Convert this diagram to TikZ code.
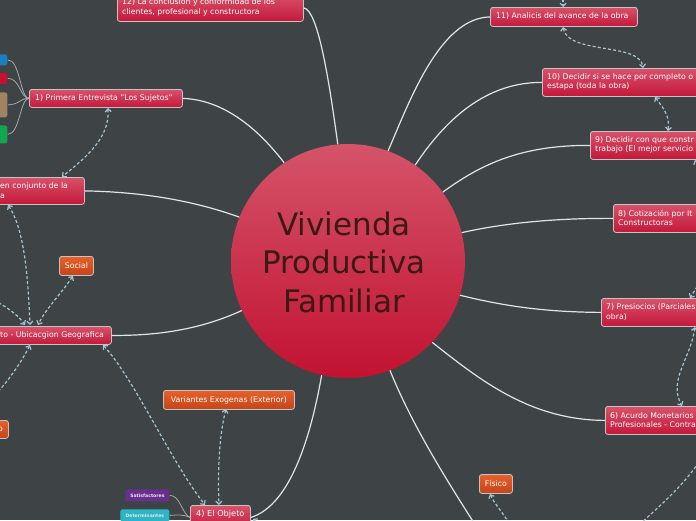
\documentclass[tikz,border=0pt]{standalone}
\usepackage{fontspec}
\setmainfont{DejaVu Sans}
\usetikzlibrary{arrows.meta}
\definecolor{bg}{HTML}{3E4345}
\definecolor{boxline}{HTML}{C4C4C4}
\definecolor{redtop}{HTML}{D8526A}
\definecolor{redbot}{HTML}{C4173A}
\definecolor{ortop}{HTML}{E8602A}
\definecolor{orbot}{HTML}{C4441A}
\definecolor{circtop}{HTML}{D45469}
\definecolor{circbot}{HTML}{C21232}
\definecolor{ctext}{HTML}{3A1A12}
\definecolor{mainline}{HTML}{E4E4E4}
\definecolor{dashline}{HTML}{A6C6D4}
\definecolor{subline}{HTML}{A8A8A8}
\definecolor{cblue}{HTML}{1A7EC2}
\definecolor{cred}{HTML}{C8102E}
\definecolor{ctan}{HTML}{9E8560}
\definecolor{cgreen}{HTML}{12A650}
\definecolor{cpurple}{HTML}{6A2E8E}
\definecolor{cteal}{HTML}{2BB5C5}
\tikzset{
  boxbase/.style={rectangle, rounded corners=2.5pt, draw=boxline, line width=0.8pt, inner sep=0pt, anchor=north west},
  redbox/.style={boxbase, top color=redtop, bottom color=redbot},
  orbox/.style={boxbase, top color=ortop, bottom color=orbot},
  flatbox/.style={boxbase, draw=none, fill=#1},
  btxt/.style={text=white, font=\fontsize{7.8}{9.4}\selectfont, align=left, inner sep=0pt, anchor=west},
  tinytxt/.style={text=white!90!black, font=\fontsize{4.6}{5}\selectfont\bfseries, inner sep=0pt},
  mainconn/.style={draw=mainline, line width=1.2pt},
  subconn/.style={draw=subline, line width=0.8pt},
  dconn/.style={draw=dashline, line width=1.2pt, dash pattern=on 3pt off 2.2pt,
     {Straight Barb[length=3pt,width=6pt]}-{Straight Barb[length=3pt,width=6pt]}},
  dconnend/.style={draw=dashline, line width=1.2pt, dash pattern=on 3pt off 2.2pt,
     -{Straight Barb[length=3pt,width=6pt]}},
  dconnplain/.style={draw=dashline, line width=1.2pt, dash pattern=on 3pt off 2.2pt}
}
\begin{document}
\begin{tikzpicture}[x=1pt,y=-1pt]
\useasboundingbox (0,0) rectangle (696,520);
\fill[bg] (0,0) rectangle (696,520);
\begin{scope}
\clip (0,0) rectangle (696,520);

% central circle
\node[circle, minimum size=234pt, inner sep=0pt, top color=circtop, bottom color=circbot] (c) at (348,261) {};
\node[text=ctext, font=\fontsize{31}{38.5}\selectfont, align=center, inner sep=0pt] (ct) at (344,262) {Vivienda\\Productiva\\ Familiar};

% boxes (left)
\node[redbox, minimum width=186pt, minimum height=27pt] (n12) at (117,-6) {};
\node[btxt] (t12) at (122,7.5) {12) La conclusion y conformidad de los\\clientes, profesional y constructora};

\node[redbox, minimum width=153pt, minimum height=18pt] (n1) at (29,89) {};
\node[btxt] (t1) at (35,98) {1) Primera Entrevista "Los Sujetos"};

\node[flatbox=cblue, minimum width=30pt, minimum height=11pt] (s1) at (-23,54) {};
\node[flatbox=cred, minimum width=30pt, minimum height=11pt] (s2) at (-23,72.5) {};
\node[flatbox=ctan, minimum width=30pt, minimum height=25pt] (s3) at (-23,92) {};
\node[flatbox=cgreen, minimum width=30pt, minimum height=18pt] (s4) at (-23,125) {};

\node[redbox, minimum width=144pt, minimum height=27pt] (n2) at (-60,177) {};
\node[btxt] (t2) at (0,190.5) {en conjunto de la\\a};

\node[redbox, minimum width=171pt, minimum height=18pt] (n3) at (-60,326) {};
\node[btxt] (t3) at (0,335) {to - Ubicacgion Geografica};

\node[orbox, minimum width=34pt, minimum height=19pt] (soc) at (59,256) {};
\node[btxt, anchor=center] (tsoc) at (soc.center) {Social};

\node[orbox, minimum width=38pt, minimum height=18pt] (ol) at (-30,420) {};
\node[btxt, anchor=east] (tol) at (3,429) {o};

\node[orbox, minimum width=131pt, minimum height=19pt] (var) at (163,390) {};
\node[btxt, anchor=center] (tvar) at (var.center) {Variantes Exogenas (Exterior)};

\node[redbox, minimum width=60pt, minimum height=24pt] (n4) at (190,505) {};
\node[btxt, font=\fontsize{8.2}{9.5}\selectfont] (t4) at (196,514.5) {4) El Objeto};

\node[flatbox=cpurple, minimum width=44pt, minimum height=12pt, rounded corners=1.5pt] (sat) at (125,489) {};
\node[tinytxt] (tsat) at (sat.center) {Satisfactores};
\node[flatbox=cteal, minimum width=49pt, minimum height=12pt, rounded corners=1.5pt] (det) at (120,509) {};
\node[tinytxt] (tdet) at (det.center) {Determinantes};

\node[orbox, minimum width=33pt, minimum height=19pt] (fis) at (479,474) {};
\node[btxt, anchor=center] (tfis) at (fis.center) {Físico};

% boxes (right)
\node[redbox, minimum width=147pt, minimum height=19pt] (n11) at (490,7) {};
\node[btxt] (t11) at (496,16.5) {11) Analicis del avance de la obra};

\node[redbox, minimum width=200pt, minimum height=28pt] (n10) at (542,68) {};
\node[btxt] (t10) at (547,82) {10) Decidir si se hace por completo o\\estapa (toda la obra)};

\node[redbox, minimum width=150pt, minimum height=28pt] (n9) at (590,131) {};
\node[btxt] (t9) at (595,145) {9) Decidir con que constr\\trabajo (El mejor servicio};

\node[redbox, minimum width=120pt, minimum height=28pt] (n8) at (613,204) {};
\node[btxt] (t8) at (618,218) {8) Cotización por It\\Constructoras};

\node[redbox, minimum width=120pt, minimum height=28pt] (n7) at (601,298) {};
\node[btxt] (t7) at (606,312) {7) Presiocios (Parciales\\obra)};

\node[redbox, minimum width=120pt, minimum height=28pt] (n6) at (605,406) {};
\node[btxt] (t6) at (610,420) {6) Acurdo Monetarios\\Profesionales - Contra};

% free ends
\coordinate (e5) at (476,526);
\coordinate (eL1) at (-6,300);
\coordinate (eL2) at (-8,398);
\coordinate (e4r) at (268,530);
\coordinate (efis) at (512,528);
\coordinate (eR1) at (702,458);
\coordinate (eR2) at (636,528);
\coordinate (e7t) at (700,282);
\coordinate (e9b) at (702,176);
\coordinate (e11t) at (563,-6);

% main connectors
\draw[mainconn] (n12.east) .. controls (318,10) and (329,80) .. (c.95);
\draw[mainconn] (n1.east) .. controls (230,100) and (265,138) .. (c.123);
\draw[mainconn] (n2.east) .. controls (150,192) and (200,203) .. (c.158);
\draw[mainconn] (n3.east) .. controls (170,336) and (210,325) .. (c.205);
\draw[mainconn] (n4.east) .. controls (292,505) and (312,430) .. (c.257);
\draw[mainconn] (c.291) .. controls (410,420) and (440,470) .. (e5);
\draw[mainconn] (n6.west) .. controls (530,420) and (480,380) .. (c.316);
\draw[mainconn] (n7.west) .. controls (540,312) and (500,305) .. (c.343);
\draw[mainconn] (n8.west) .. controls (550,218) and (500,224) .. (c.14);
\draw[mainconn] (n9.west) .. controls (520,145) and (480,165) .. (c.36);
\draw[mainconn] (n10.west) .. controls (480,82) and (440,128) .. (c.55);
\draw[mainconn] (n11.west) .. controls (440,18) and (410,100) .. (c.70);

% sub connectors
\draw[subconn] (n1.west) .. controls (20,98) and (20,59.5) .. (s1.east);
\draw[subconn] (n1.west) .. controls (20,98) and (20,78) .. (s2.east);
\draw[subconn] (n1.west) .. controls (20,98) and (20,104.5) .. (s3.east);
\draw[subconn] (n1.west) .. controls (20,98) and (20,134) .. (s4.east);
\draw[subconn] (n4.west) .. controls (182,514) and (180,495) .. (sat.east);
\draw[subconn] (n4.west) .. controls (182,514) and (178,515) .. (det.east);

% dashed relations
\draw[dconn] (108,108) .. controls (110,140) and (82,160) .. (62,177);
\draw[dconn] (8,205) .. controls (25,230) and (28,280) .. (30,325);
\draw[dconn] (73,276) .. controls (60,295) and (45,310) .. (38,325);
\draw[dconnend] (eL1) .. controls (8,308) and (18,315) .. (25,325);
\draw[dconn] (30,345) .. controls (20,365) and (5,385) .. (eL2);
\draw[dconn] (103,345) .. controls (135,380) and (170,460) .. (205,505);
\draw[dconn] (226,409) .. controls (218,440) and (218,480) .. (219,505);
\draw[dconnend] (e4r) -- (253,519);
\draw[dconnend] (efis) .. controls (505,515) and (495,505) .. (490,494);
\draw[dconnplain] (eR1) .. controls (680,490) and (660,505) .. (eR2);
\draw[dconn] (695,327) .. controls (690,360) and (668,380) .. (682,406);
\draw[dconnend] (e7t) -- (690,298);
\draw[dconnend] (e9b) -- (695,160);
\draw[dconn] (655,97) .. controls (663,108) and (670,115) .. (668,131);
\draw[dconn] (563,27) .. controls (568,55) and (640,42) .. (643,68);
\draw[dconnend] (e11t) -- (563,7);
\end{scope}
\end{tikzpicture}
\end{document}
